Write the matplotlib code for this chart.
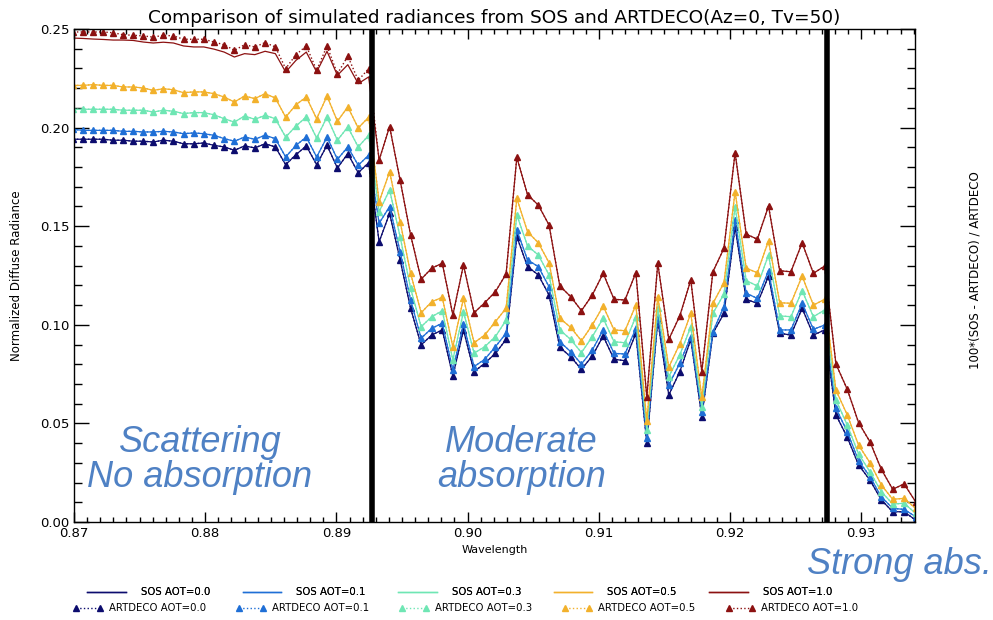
import numpy as np
import matplotlib
matplotlib.use("Agg")
import matplotlib.pyplot as plt
from matplotlib.ticker import MultipleLocator, FormatStrFormatter
from matplotlib.lines import Line2D

# wavelength grid (um), 10 cm-1 steps
wavelength = [
    0.869943, 0.870701, 0.871460, 0.872220, 0.872981, 0.873744, 0.874508, 0.875274,
    0.876040, 0.876808, 0.877578, 0.878349, 0.879121, 0.879894, 0.880669, 0.881446,
    0.882223, 0.883002, 0.883783, 0.884564, 0.885347, 0.886132, 0.886918, 0.887705,
    0.888494, 0.889284, 0.890076, 0.890869, 0.891663, 0.892459, 0.893256, 0.894055,
    0.894855, 0.895656, 0.896459, 0.897263, 0.898069, 0.898876, 0.899685, 0.900495,
    0.901307, 0.902120, 0.902935, 0.903751, 0.904568, 0.905387, 0.906208, 0.907029,
    0.907853, 0.908678, 0.909504, 0.910332, 0.911162, 0.911993, 0.912825, 0.913659,
    0.914495, 0.915332, 0.916171, 0.917011, 0.917852, 0.918695, 0.919540, 0.920387,
    0.921234, 0.922084, 0.922935, 0.923788, 0.924642, 0.925497, 0.926355, 0.927214,
    0.928074, 0.928936, 0.929800, 0.930665, 0.931532, 0.932401, 0.933271, 0.934143,
]

art_00 = [
    0.1941, 0.1941, 0.1941, 0.1941, 0.1936, 0.1936, 0.1931, 0.1931, 0.1927, 0.1936,
    0.1931, 0.1918, 0.1918, 0.1922, 0.1910, 0.1902, 0.1885, 0.1907, 0.1897, 0.1918,
    0.1902, 0.1812, 0.1863, 0.1907, 0.1812, 0.1910, 0.1795, 0.1868, 0.1771, 0.1822,
    0.1421, 0.1565, 0.1329, 0.1084, 0.0898, 0.0948, 0.0974, 0.0740, 0.0974, 0.0762,
    0.0805, 0.0855, 0.0926, 0.1447, 0.1295, 0.1253, 0.1151, 0.0886, 0.0838, 0.0774,
    0.0842, 0.0943, 0.0825, 0.0818, 0.0957, 0.0399, 0.1024, 0.0644, 0.0762, 0.0926,
    0.0534, 0.0957, 0.1058, 0.1497, 0.1129, 0.1109, 0.1247, 0.0957, 0.0948, 0.1084,
    0.0948, 0.0974, 0.0543, 0.0430, 0.0289, 0.0213, 0.0112, 0.0052, 0.0052, 0.0010,
]
art_01 = [
    0.1991, 0.1986, 0.1986, 0.1986, 0.1986, 0.1981, 0.1981, 0.1978, 0.1978, 0.1981,
    0.1978, 0.1969, 0.1973, 0.1969, 0.1961, 0.1944, 0.1931, 0.1952, 0.1941, 0.1961,
    0.1944, 0.1851, 0.1910, 0.1952, 0.1851, 0.1952, 0.1839, 0.1902, 0.1809, 0.1860,
    0.1515, 0.1599, 0.1371, 0.1126, 0.0932, 0.0982, 0.1008, 0.0771, 0.1004, 0.0788,
    0.0825, 0.0889, 0.0957, 0.1481, 0.1329, 0.1295, 0.1193, 0.0914, 0.0864, 0.0801,
    0.0872, 0.0974, 0.0855, 0.0852, 0.0982, 0.0424, 0.1041, 0.0695, 0.0805, 0.0940,
    0.0559, 0.0965, 0.1092, 0.1531, 0.1160, 0.1134, 0.1274, 0.0974, 0.0974, 0.1109,
    0.0977, 0.0999, 0.0577, 0.0458, 0.0311, 0.0230, 0.0128, 0.0069, 0.0064, 0.0027,
]
art_03 = [
    0.2093, 0.2093, 0.2093, 0.2093, 0.2093, 0.2088, 0.2088, 0.2088, 0.2079, 0.2088,
    0.2083, 0.2071, 0.2076, 0.2076, 0.2065, 0.2045, 0.2028, 0.2059, 0.2042, 0.2062,
    0.2045, 0.1952, 0.2008, 0.2054, 0.1947, 0.2054, 0.1936, 0.2003, 0.1902, 0.1961,
    0.1574, 0.1684, 0.1447, 0.1185, 0.0990, 0.1041, 0.1071, 0.0822, 0.1066, 0.0856,
    0.0889, 0.0940, 0.1024, 0.1557, 0.1400, 0.1354, 0.1253, 0.0974, 0.0926, 0.0859,
    0.0940, 0.1033, 0.0914, 0.0909, 0.1041, 0.0467, 0.1084, 0.0737, 0.0847, 0.0990,
    0.0585, 0.1058, 0.1156, 0.1599, 0.1224, 0.1197, 0.1354, 0.1045, 0.1041, 0.1173,
    0.1041, 0.1075, 0.0619, 0.0492, 0.0345, 0.0255, 0.0154, 0.0091, 0.0095, 0.0044,
]
art_05 = [
    0.2214, 0.2214, 0.2218, 0.2214, 0.2214, 0.2206, 0.2206, 0.2201, 0.2189, 0.2197,
    0.2192, 0.2177, 0.2181, 0.2181, 0.2172, 0.2155, 0.2130, 0.2160, 0.2147, 0.2172,
    0.2150, 0.2053, 0.2116, 0.2155, 0.2045, 0.2160, 0.2032, 0.2105, 0.1998, 0.2053,
    0.1624, 0.1776, 0.1523, 0.1261, 0.1061, 0.1117, 0.1139, 0.0889, 0.1134, 0.0909,
    0.0948, 0.1016, 0.1084, 0.1641, 0.1472, 0.1416, 0.1315, 0.1033, 0.0987, 0.0919,
    0.0999, 0.1095, 0.0974, 0.0970, 0.1100, 0.0514, 0.1142, 0.0785, 0.0903, 0.1058,
    0.0632, 0.1109, 0.1213, 0.1675, 0.1287, 0.1264, 0.1426, 0.1112, 0.1109, 0.1247,
    0.1100, 0.1129, 0.0669, 0.0543, 0.0390, 0.0301, 0.0188, 0.0115, 0.0120, 0.0069,
]
art_10 = [
    0.2485, 0.2485, 0.2485, 0.2485, 0.2481, 0.2471, 0.2468, 0.2465, 0.2459, 0.2468,
    0.2465, 0.2448, 0.2448, 0.2448, 0.2434, 0.2420, 0.2392, 0.2420, 0.2409, 0.2431,
    0.2409, 0.2299, 0.2370, 0.2414, 0.2291, 0.2414, 0.2273, 0.2362, 0.2240, 0.2299,
    0.1836, 0.2005, 0.1734, 0.1455, 0.1231, 0.1287, 0.1312, 0.1050, 0.1303, 0.1061,
    0.1112, 0.1168, 0.1258, 0.1849, 0.1660, 0.1607, 0.1506, 0.1197, 0.1143, 0.1072,
    0.1151, 0.1261, 0.1129, 0.1126, 0.1264, 0.0632, 0.1312, 0.0926, 0.1045, 0.1227,
    0.0762, 0.1269, 0.1388, 0.1873, 0.1460, 0.1434, 0.1602, 0.1274, 0.1269, 0.1416,
    0.1261, 0.1298, 0.0801, 0.0673, 0.0504, 0.0407, 0.0267, 0.0166, 0.0193, 0.0103,
]
# SOS AOT=1.0 sits a bit under ARTDECO in the scattering band
sos_10_scatter = [
    0.2454, 0.2452, 0.2449, 0.2447, 0.2444, 0.2444, 0.2442, 0.2434, 0.2429, 0.2433,
    0.2429, 0.2414, 0.2409, 0.2409, 0.2398, 0.2383, 0.2358, 0.2375, 0.2370, 0.2387,
    0.2375, 0.2282, 0.2341, 0.2383, 0.2282, 0.2387, 0.2265, 0.2319, 0.2223, 0.2257,
]
sos_00 = art_00
sos_01 = art_01
sos_03 = art_03
sos_05 = art_05
sos_10 = sos_10_scatter + art_10[30:]

aot_labels = ["0.0", "0.1", "0.3", "0.5", "1.0"]
colors = ["#0c0c6e", "#1f6fd6", "#6fe6b4", "#f2b12c", "#8c1111"]
band_edges = [0.8927, 0.9274]

fig = plt.figure(figsize=(9.93, 6.2), dpi=100)
ax = fig.add_axes([74 / 993, 98 / 620, 841 / 993, 493 / 620])

sos = [sos_00, sos_01, sos_03, sos_05, sos_10]
art = [art_00, art_01, art_03, art_05, art_10]

sos_handles = []
art_handles = []
for lab, c, s, a in zip(aot_labels, colors, sos, art):
    ax.plot(wavelength, a, linestyle=":", color=c, lw=1.0,
            marker="^", markersize=4.5)
    ax.plot(wavelength, s, linestyle="-", color=c, lw=0.9)
    sos_handles.append(Line2D([], [], color=c, lw=1.0, label="SOS AOT=" + lab))
    art_handles.append(Line2D([], [], color=c, lw=1.0, linestyle=":",
                              marker="^", markersize=4, label="ARTDECO AOT=" + lab))

for xb in band_edges:
    ax.axvline(xb, color="black", lw=4)

ax.set_xlim(0.87, 0.9341)
ax.set_ylim(0.0, 0.25)
ax.xaxis.set_major_locator(MultipleLocator(0.01))
ax.xaxis.set_minor_locator(MultipleLocator(0.001))
ax.yaxis.set_major_locator(MultipleLocator(0.05))
ax.yaxis.set_minor_locator(MultipleLocator(0.01))
ax.xaxis.set_major_formatter(FormatStrFormatter("%.2f"))
ax.yaxis.set_major_formatter(FormatStrFormatter("%.2f"))
ax.tick_params(which="both", direction="in", top=True, right=True,
               labelsize=9.5, width=1.0)
ax.tick_params(axis="x", which="major", length=7)
ax.tick_params(axis="x", which="minor", length=3.6)
ax.tick_params(axis="y", which="major", length=11)
ax.tick_params(axis="y", which="minor", length=5.5)
for sp in ax.spines.values():
    sp.set_linewidth(1.0)

ax.set_title("Comparison of simulated radiances from SOS and ARTDECO(Az=0, Tv=50)",
             fontsize=13.3, pad=4)
ax.set_xlabel("Wavelength", fontsize=8, labelpad=4)
ax.set_ylabel("Normalized Diffuse Radiance", fontsize=8.5, labelpad=12)
fig.text(975 / 993, 1 - 270 / 620, "100*(SOS - ARTDECO) / ARTDECO",
         rotation=90, fontsize=8.5, ha="center", va="center")

note = dict(color="#4f81c4", style="italic", fontsize=26,
            family="Liberation Sans", ha="center", va="center", linespacing=1.0)
ax.text(0.8796, 0.0314, "Scattering\nNo absorption", **note)
ax.text(0.9041, 0.0314, "Moderate\nabsorption", **note)
fig.text(807 / 993, 1 - 565 / 620, "Strong abs.", color="#4f81c4", style="italic",
         fontsize=26, family="Liberation Sans", ha="left", va="center")

leg1 = fig.legend(handles=sos_handles, loc="center", bbox_to_anchor=(0.463, 0.045),
                  ncol=5, frameon=False, fontsize=7.3, handlelength=3.8,
                  handletextpad=1.5, columnspacing=3.2)
fig.add_artist(leg1)
fig.legend(handles=art_handles, loc="center", bbox_to_anchor=(0.469, 0.019),
           ncol=5, frameon=False, fontsize=7.3, handlelength=2.9, numpoints=2,
           handletextpad=0.6, columnspacing=3.0)

fig.savefig("out.png", dpi=100)
